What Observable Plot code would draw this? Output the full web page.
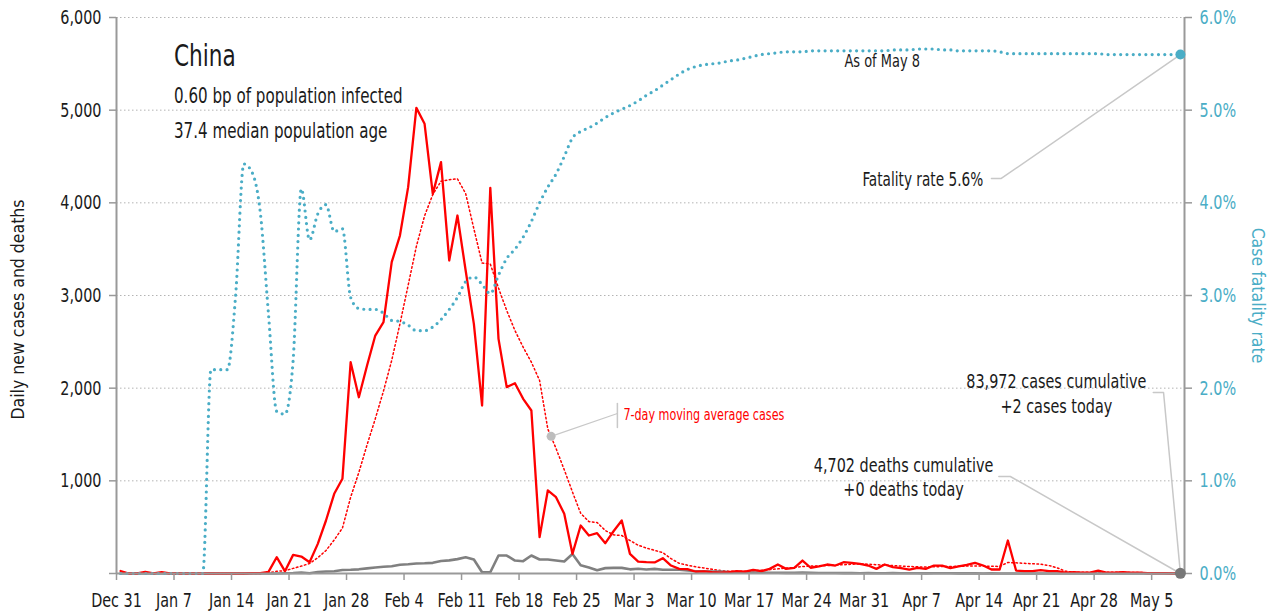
<!DOCTYPE html>
<html>
<head>
<meta charset="utf-8">
<script src="https://cdn.jsdelivr.net/npm/d3@7"></script>
<script src="https://cdn.jsdelivr.net/npm/@observablehq/plot@0.6"></script>
<style>
  html, body { margin: 0; padding: 0; background: #fff; }
  #chart { width: 1274px; height: 613px; }
</style>
</head>
<body>
<div id="chart"></div>
<script>
// ---- Data (daily, starting Dec 31, 2019) ----
const startDate = "2019-12-31";
const cases = [27,0,0,17,0,15,0,0,0,0, 0,0,0,0,0,0,4,4,17,176,
  25,201,183,122,320,572,860,1022,2280,1902, 2245,2568,2712,3360,3647,4169,5025,4853,4097,4439,
  3378,3863,3270,2694,1813,4162,2532,2011,2054,1885, 1759,392,896,824,644,212,518,410,435,327,
  456,572,212,129,122,119,165,86,50,47, 19,24,15,8,14,25,21,40,25,50,
  97,50,61,140,62,76,97,86,122,115, 104,86,50,97,68,58,43,61,50,86,
  86,58,76,94,115,86,43,43,356,32, 25,25,36,25,25,10,15,10,10,30,
  10,10,15,10,10,5,5,3,2,2];
const movingAvg = [4,4,4,6,6,8,5,5,2,2, 0,0,0,0,0,0,1,1,5,25,
  30,55,80,108,170,248,362,490,823,1090, 1390,1670,1970,2300,2694,3110,3530,3860,4090,4233,
  4250,4259,4100,3720,3350,3340,3080,2838,2622,2442, 2280,2083,1560,1350,1120,880,650,560,550,464,
  417,410,356,305,275,250,225,160,110,90, 72,60,45,32,25,25,25,30,35,42,
  50,58,65,75,80,82,86,90,95,100, 104,100,95,90,85,80,76,72,70,72,
  75,76,78,80,82,80,78,76,119,115, 110,105,100,86,61,25,15,13,12,14,
  14,13,12,11,10,9,7,5,4,4];
const deaths = [0,0,0,0,0,0,0,0,0,0, 0,1,0,0,0,0,0,0,0,0,
  3,5,9,2,16,22,25,38,40,45, 55,65,72,78,95,100,108,110,115,135,
  142,155,176,151,14,14,194,194,140,133, 194,151,151,140,129,210,90,65,36,58,
  61,61,45,52,43,50,40,40,40,32, 25,25,22,22,15,14,12,11,10,8,
  8,7,7,9,7,6,5,5,4,4, 3,6,3,3,4,3,2,2,1,2,
  3,2,1,1,1,0,1,0,0,0, 0,0,0,0,0,0,0,0,0,0,
  0,0,0,0,0,0,0,0,0,0];
const fatalityRate = [0,0,0,0,0,0,0,0,0,0, 0,2.2,2.2,2.2,3.0,4.42,4.33,3.9,2.8,1.75,
  1.72,2.3,4.15,3.6,3.88,3.98,3.69,3.72,2.98,2.86, 2.85,2.85,2.81,2.73,2.72,2.68,2.62,2.62,2.66,2.74,
  2.85,2.98,3.15,3.2,3.12,3.02,3.22,3.40,3.50,3.63, 3.80,4.00,4.17,4.31,4.50,4.70,4.77,4.81,4.86,4.92,
  4.97,5.01,5.05,5.10,5.16,5.21,5.27,5.33,5.39,5.44, 5.47,5.49,5.50,5.51,5.53,5.54,5.56,5.58,5.60,5.61,
  5.62,5.63,5.63,5.63,5.64,5.64,5.64,5.64,5.64,5.64, 5.64,5.64,5.64,5.64,5.65,5.65,5.65,5.66,5.66,5.66,
  5.65,5.65,5.64,5.64,5.64,5.64,5.64,5.63,5.61,5.61, 5.61,5.61,5.61,5.61,5.61,5.61,5.61,5.61,5.61,5.61,
  5.60,5.60,5.60,5.60,5.60,5.60,5.60,5.60,5.60,5.60];
const xTickLabels = ["2019-12-31","2020-01-07","2020-01-14","2020-01-21","2020-01-28","2020-02-04",
  "2020-02-11","2020-02-18","2020-02-25","2020-03-03","2020-03-10","2020-03-17","2020-03-24",
  "2020-03-31","2020-04-07","2020-04-14","2020-04-21","2020-04-28","2020-05-05"];
const yTicksLeft = [0,1000,2000,3000,4000,5000,6000];
const yTicksRight = [0,1,2,3,4,5,6]; // percent
const titleLeft = "Daily new cases and deaths";
const titleRight = "Case fatality rate";

// ---- Build table ----
const DAY = 864e5;
const t0 = Date.parse(startDate + "T00:00:00Z");
const D = (dayOffset) => new Date(t0 + dayOffset * DAY);
const table = cases.map((c, i) => ({
  date: D(i + 0.5), cases: c, ma: movingAvg[i], deaths: deaths[i], rate: fatalityRate[i]
}));
const last = table[table.length - 1];
const RATE_K = 1000; // 1% on the right axis == 1000 on the left axis

const FONT = '"DejaVu Sans Condensed", "DejaVu Sans", sans-serif';
const TEAL = "#4aadc6";
const RED = "#ff0000";
const GREY = "#808080";
const AXIS = "#999";
const LEAD = "#c8c8c8";
const INK = "#1a1a1a";

const chart = Plot.plot({
  width: 1274,
  height: 613,
  marginTop: 17,
  marginBottom: 40,
  marginLeft: 116,
  marginRight: 90,
  style: { fontFamily: FONT, fontSize: "17px", background: "#fff", color: "#222", overflow: "visible" },
  x: { type: "utc", domain: [D(0), D(130)] },
  y: { domain: [0, 6000] },
  marks: [
    // gridlines
    Plot.ruleY(yTicksLeft.slice(1), { stroke: "#b4b4b4", strokeDasharray: "1.5,2.5", strokeWidth: 1 }),
    // series
    Plot.line(table, { x: "date", y: "ma", stroke: RED, strokeWidth: 1.5, strokeDasharray: "1.6,2.6" }),
    Plot.line(table, { x: "date", y: "deaths", stroke: GREY, strokeWidth: 2.6 }),
    Plot.line(table, { x: "date", y: "cases", stroke: RED, strokeWidth: 2.3 }),
    Plot.line(table, { x: "date", y: d => d.rate * RATE_K, stroke: TEAL, strokeWidth: 3.2,
      strokeDasharray: "0,6.3", strokeLinecap: "round", curve: "monotone-x" }),
    // axis lines
    Plot.ruleX([D(0)], { stroke: AXIS, strokeWidth: 2 }),
    Plot.ruleX([D(130)], { stroke: AXIS, strokeWidth: 2 }),
    Plot.ruleY([0], { stroke: AXIS, strokeWidth: 2 }),
    // axes
    Plot.axisX({ ticks: xTickLabels.map(s => new Date(s + "T00:00:00Z")), tickFormat: d3.utcFormat("%b %-d"),
      tickSize: 7, tickPadding: 12, stroke: AXIS, strokeWidth: 1.5, fill: INK, fontSize: 20, label: null }),
    Plot.axisY({ anchor: "left", ticks: yTicksLeft, tickFormat: d => d === 0 ? "" : d3.format(",")(d),
      tickSize: 7, tickPadding: 8, stroke: AXIS, strokeWidth: 1.5, fill: INK, fontSize: 20, label: null }),
    Plot.axisY({ anchor: "right", ticks: yTicksRight.map(p => p * RATE_K), tickFormat: d => (d / RATE_K).toFixed(1) + "%",
      tickSize: 7, tickPadding: 8, stroke: AXIS, strokeWidth: 1.5, fill: TEAL, fontSize: 20, label: null }),
    // axis titles
    Plot.text([titleLeft], { frameAnchor: "left", textAnchor: "middle", dx: -98, dy: 14, rotate: -90,
      fill: INK, fontSize: 17.5 }),
    Plot.text([titleRight], { frameAnchor: "right", textAnchor: "middle", dx: 73, rotate: 90,
      fill: TEAL, fontSize: 17.5 }),
    // title block
    Plot.text(["China"], { x: D(7), y: 5580, textAnchor: "start", fontSize: 30, fill: INK }),
    Plot.text(["0.60 bp of population infected"], { x: D(7), y: 5150, textAnchor: "start", fontSize: 21, fill: INK }),
    Plot.text(["37.4 median population age"], { x: D(7), y: 4770, textAnchor: "start", fontSize: 21, fill: INK }),
    // As of
    Plot.text(["As of May 8"], { x: D(93.2), y: 5525, fontSize: 18, fill: INK }),
    // fatality annotation
    Plot.line([{ x: D(106.5), y: 4263 }, { x: D(107.7), y: 4263 }, { x: last.date, y: last.rate * RATE_K }],
      { x: "x", y: "y", stroke: LEAD, strokeWidth: 1.5 }),
    Plot.text(["Fatality rate 5.6%"], { x: D(105.5), y: 4252, textAnchor: "end", fontSize: 19, fill: INK }),
    // cases annotation
    Plot.line([{ x: D(126.2), y: 1953 }, { x: D(127.45), y: 1953 }, { x: last.date, y: last.cases }],
      { x: "x", y: "y", stroke: LEAD, strokeWidth: 1.5 }),
    Plot.text(["83,972 cases cumulative"], { x: D(114.4), y: 2072, fontSize: 20, fill: INK }),
    Plot.text(["+2 cases today"], { x: D(114.4), y: 1802, fontSize: 20, fill: INK }),
    // deaths annotation
    Plot.line([{ x: D(107.4), y: 1047 }, { x: D(108.8), y: 1047 }, { x: last.date, y: last.deaths }],
      { x: "x", y: "y", stroke: LEAD, strokeWidth: 1.5 }),
    Plot.text(["4,702 deaths cumulative"], { x: D(95.8), y: 1165, fontSize: 20, fill: INK }),
    Plot.text(["+0 deaths today"], { x: D(95.8), y: 906, fontSize: 20, fill: INK }),
    // moving average annotation
    Plot.line([{ x: D(52.9), y: 1480 }, { x: D(60.97), y: 1727 }], { x: "x", y: "y", stroke: LEAD, strokeWidth: 1.2 }),
    Plot.line([{ x: D(60.97), y: 1834 }, { x: D(60.97), y: 1575 }], { x: "x", y: "y", stroke: LEAD, strokeWidth: 1.5 }),
    Plot.dot([{ x: D(52.9), y: 1480 }], { x: "x", y: "y", r: 4.5, fill: "#bdbdbd", stroke: "none" }),
    Plot.text(["7-day moving average cases"], { x: D(61.7), y: 1705, textAnchor: "start", fontSize: 15.5, fill: RED }),
    // end points
    Plot.dot([last], { x: "date", y: "cases", r: 5.5, fill: "#777", stroke: "none" }),
    Plot.dot([last], { x: "date", y: d => d.rate * RATE_K, r: 5, fill: TEAL, stroke: "none" })
  ]
});
document.getElementById("chart").appendChild(chart);

// The reference uses a condensed face narrower than any installed font:
// narrow the glyphs of the chart texts (axis titles excepted).
const CONDENSE = 0.8;
chart.querySelectorAll("text").forEach(t => {
  const s = t.textContent.trim();
  if (s === titleLeft || s === titleRight) return;
  const len = t.getComputedTextLength();
  if (len > 0) {
    t.setAttribute("textLength", (len * CONDENSE).toFixed(2));
    t.setAttribute("lengthAdjust", "spacingAndGlyphs");
  }
});
</script>
</body>
</html>
